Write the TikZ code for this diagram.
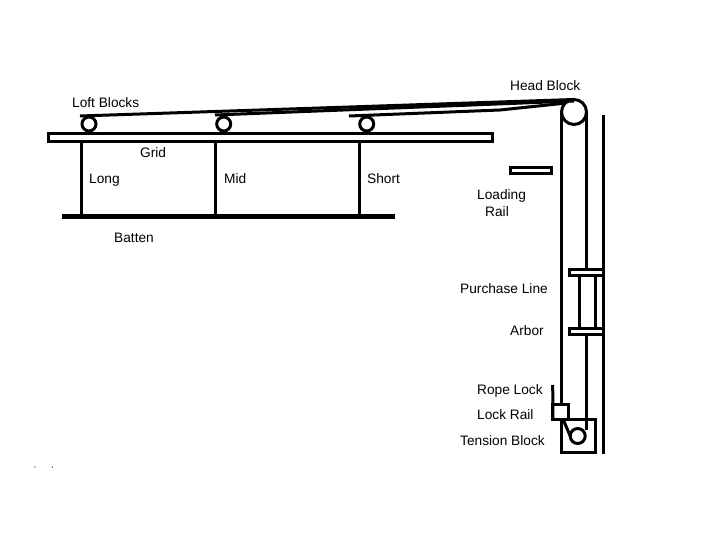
\documentclass[tikz,border=0pt]{standalone}
\usepackage{fontspec}
\setmainfont{Liberation Sans}
\usetikzlibrary{positioning}
\tikzset{
  lbl/.style={anchor=base west,inner sep=0pt,font=\fontsize{13.7}{16}\selectfont},
  rope/.style={line width=3pt},
  pipe/.style={line width=3pt},
  sheave/.style={circle,draw,line width=3pt,fill=white,inner sep=0pt,outer sep=0pt},
  bar/.style={rectangle,draw,line width=3pt,fill=white,inner sep=0pt,outer sep=0pt}
}
\begin{document}
\begin{tikzpicture}[x=1pt,y=-1pt]
            \useasboundingbox (0,0) rectangle (720,540);
            % Labels for the parts
            \node[lbl] (headlbl) at (510,91) {Head Block};
            \node[lbl] (loftlbl) at (72,108) {Loft Blocks};
            \node[lbl] (gridlbl) at (140,158) {Grid};
            \node[lbl] (longlbl) at (89,184) {Long};
            \node[lbl] (midlbl) at (224,184) {Mid};
            \node[lbl] (shortlbl) at (367,184) {Short};
            \node[lbl] (loadlbl) at (477,200) {Loading};
            \node[lbl] (raillbl) at (485,217) {Rail};
            \node[lbl] (battenlbl) at (114,243) {Batten};
            \node[lbl] (purchlbl) at (460,293) {Purchase Line};
            \node[lbl] (arborlbl) at (510,335) {Arbor};
            \node[lbl] (ropelbl) at (477,394) {Rope Lock};
            \node[lbl] (locklbl) at (477,419) {Lock Rail};
            \node[lbl] (tenslbl) at (460,445) {Tension Block};
            % Grid and loading rail
            \node[bar,minimum width=444pt,minimum height=7.5pt] (grid) at (270.5,137.3) {};
            \node[bar,minimum width=41pt,minimum height=6pt] (loadrail) at (531,171) {};
            % Blocks
            \node[sheave,minimum size=14pt] (loftlong) at (89,124) {};
            \node[sheave,minimum size=14pt] (loftmid) at (223.7,124) {};
            \node[sheave,minimum size=14pt] (loftshort) at (366.7,124) {};
            \node[sheave,minimum size=25pt] (head) at (574,112) {};
            % Batten and lift lines
            \coordinate (battenl) at (62,217);
            \coordinate (battenr) at (395,217);
            \draw[line width=5pt] (battenl) -- (battenr);
            \coordinate (battenlong) at (81.3,217);
            \coordinate (battenmid) at (215,217);
            \coordinate (battenshort) at (359,217);
            \coordinate (gridlong) at (81.3,141);
            \coordinate (gridmid) at (215,141);
            \coordinate (gridshort) at (359,141);
            \draw[rope] (gridlong) -- (battenlong);
            \draw[rope] (gridmid) -- (battenmid);
            \draw[rope] (gridshort) -- (battenshort);
            % Lines over the blocks
            \coordinate (ropelong) at (80,116);
            \coordinate (ropemid) at (215,115);
            \coordinate (ropeshort) at (349,116);
            \coordinate (ropebend) at (500,110);
            \draw[rope] (ropelong) -- (head.north);
            \draw[rope] (ropemid) -- ([yshift=-1.5pt]head.north);
            \draw[rope] (ropeshort) -- (ropebend) -- (head.north west);
            % Wall side line
            \coordinate (walltop) at (603.3,115);
            \coordinate (wallbot) at (603.3,454);
            \draw[pipe] (walltop) -- (wallbot);
            % Rope lock and lock rail
            \node[bar,minimum width=15.5pt,minimum height=15pt] (ropelock) at (560.7,411.5) {};
            \coordinate (railtop) at (552.7,385);
            \draw[pipe] (railtop) -- (ropelock.south west);
            % Tension block
            \node[bar,fill=none,minimum width=33.5pt,minimum height=33pt] (tension) at (578.7,436) {};
            \node[sheave,minimum size=15pt] (tensblock) at (577.7,436) {};
            % Purchase line
            \coordinate (armtop) at (586.5,269);
            \coordinate (armbot) at (586.5,334);
            \coordinate (tensin) at (586.5,430);
            \coordinate (tenstop) at (563,419);
            \draw[rope] (head.west) -- (ropelock.north -| head.west);
            \draw[rope] (head.east) -- (armtop);
            \draw[rope] (armbot) -- (tensin);
            \draw[rope] (tenstop) -- (tensblock.west);
            % Arbor
            \node[bar,minimum width=33.5pt,minimum height=6pt] (arbortop) at (586.3,272) {};
            \node[bar,minimum width=33.5pt,minimum height=6pt] (arborbot) at (586.3,331) {};
            \coordinate (rodlt) at (579,275);
            \coordinate (rodlb) at (579,328);
            \coordinate (rodrt) at (595,275);
            \coordinate (rodrb) at (595,328);
            \draw[pipe] (rodlt) -- (rodlb);
            \draw[pipe] (rodrt) -- (rodrb);
            % Specks
            \fill (35,467) circle (0.7pt);
            \fill (52.3,467) circle (0.7pt);
        \end{tikzpicture}
\end{document}
